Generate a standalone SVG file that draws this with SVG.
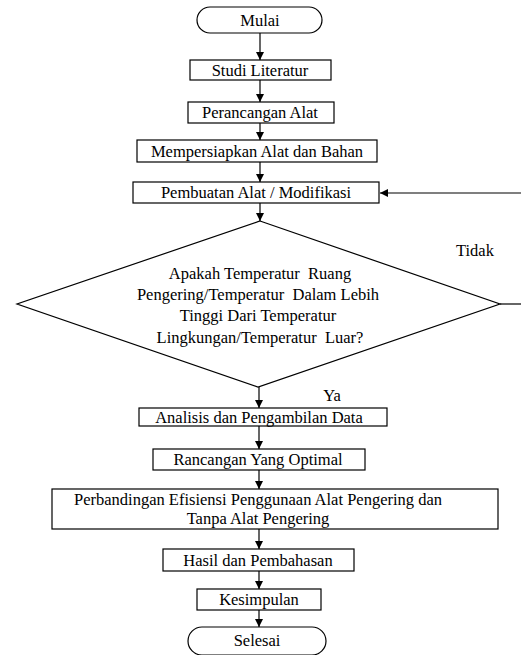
<svg xmlns="http://www.w3.org/2000/svg" width="521" height="655" viewBox="0 0 521 655">
<style>
.b{fill:#fff;stroke:#000;stroke-width:1.2}
.t{font-family:'Liberation Serif','Times New Roman','DejaVu Serif',serif;font-size:16.5px;fill:#000;text-anchor:middle}
.c{stroke:#000;stroke-width:1.2;fill:none}
</style>
<defs>
<marker id="a" markerWidth="10" markerHeight="10" refX="9" refY="5" orient="auto" markerUnits="userSpaceOnUse">
<path d="M1,1 L9,5 L1,9 Z" fill="#000"/>
</marker>
</defs>
<rect width="521" height="655" fill="#fff"/>
<g id="connectors">
<line class="c" x1="260" y1="33" x2="260" y2="60" marker-end="url(#a)"/>
<line class="c" x1="260" y1="80" x2="260" y2="102" marker-end="url(#a)"/>
<line class="c" x1="260" y1="123" x2="260" y2="140" marker-end="url(#a)"/>
<line class="c" x1="260" y1="162" x2="260" y2="182" marker-end="url(#a)"/>
<line class="c" x1="260" y1="203" x2="260" y2="221" marker-end="url(#a)"/>
<line class="c" x1="259" y1="387" x2="259" y2="408" marker-end="url(#a)"/>
<line class="c" x1="259" y1="426" x2="259" y2="449" marker-end="url(#a)"/>
<line class="c" x1="259" y1="470" x2="259" y2="489" marker-end="url(#a)"/>
<line class="c" x1="259" y1="529" x2="259" y2="549" marker-end="url(#a)"/>
<line class="c" x1="259" y1="571" x2="259" y2="589" marker-end="url(#a)"/>
<line class="c" x1="259" y1="610" x2="259" y2="627" marker-end="url(#a)"/>
<line class="c" x1="500" y1="304" x2="521" y2="304"/>
<line class="c" x1="521" y1="193" x2="380" y2="193" marker-end="url(#a)"/>
<text class="t" x="475" y="256">Tidak</text>
<text class="t" x="332" y="401">Ya</text>
</g>
<g id="mulai"><rect class="b" x="197" y="7" width="125" height="26" rx="13"/><text class="t" x="260" y="26">Mulai</text></g>
<g id="studi"><rect class="b" x="190" y="60" width="141" height="20"/><text class="t" x="260" y="76">Studi Literatur</text></g>
<g id="perancangan"><rect class="b" x="188" y="102" width="146" height="21"/><text class="t" x="260" y="118">Perancangan Alat</text></g>
<g id="mempersiapkan"><rect class="b" x="137" y="140" width="240" height="22"/><text class="t" x="257" y="157">Mempersiapkan Alat dan Bahan</text></g>
<g id="pembuatan"><rect class="b" x="133" y="182" width="246" height="21"/><text class="t" x="256" y="198">Pembuatan Alat / Modifikasi</text></g>
<g id="keputusan"><polygon class="b" points="260,221 500,304 258,387 17,304"/>
<text class="t" x="260" y="279" xml:space="preserve">Apakah Temperatur  Ruang</text>
<text class="t" x="258" y="300" xml:space="preserve">Pengering/Temperatur  Dalam Lebih</text>
<text class="t" x="258" y="321">Tinggi Dari Temperatur</text>
<text class="t" x="260" y="343" xml:space="preserve">Lingkungan/Temperatur  Luar?</text>
</g>
<g id="analisis"><rect class="b" x="139" y="408" width="248" height="18"/><text class="t" x="259" y="423">Analisis dan Pengambilan Data</text></g>
<g id="rancangan"><rect class="b" x="153" y="449" width="212" height="21"/><text class="t" x="258" y="465">Rancangan Yang Optimal</text></g>
<g id="perbandingan"><rect class="b" x="52" y="489" width="446" height="40"/><text class="t" x="258" y="505">Perbandingan Efisiensi Penggunaan Alat Pengering dan</text><text class="t" x="258" y="524">Tanpa Alat Pengering</text></g>
<g id="hasil"><rect class="b" x="163" y="549" width="191" height="22"/><text class="t" x="258" y="566">Hasil dan Pembahasan</text></g>
<g id="kesimpulan"><rect class="b" x="197" y="589" width="124" height="21"/><text class="t" x="259" y="605">Kesimpulan</text></g>
<g id="selesai"><rect class="b" x="188" y="627" width="138" height="28" rx="14"/><text class="t" x="257" y="646">Selesai</text></g>
</svg>
